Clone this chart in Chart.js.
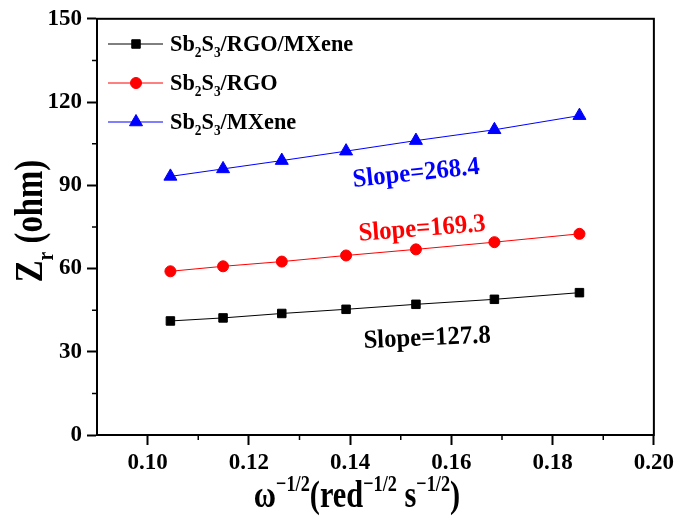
<!DOCTYPE html>
<html>
<head>
<meta charset="utf-8">
<script src="https://cdn.jsdelivr.net/npm/chart.js@4.4.1/dist/chart.umd.min.js"></script>
<style>
  body { margin: 0; background: #fff; }
  #wrap { width: 678px; height: 517px; }
</style>
</head>
<body>
<div id="wrap"><canvas id="chart"></canvas></div>
<script>
// values
const xValues = [0.1045, 0.1149, 0.1265, 0.1392, 0.1530, 0.1685, 0.1853];
const zRgoMxene = [41.1, 42.2, 43.8, 45.3, 47.1, 48.9, 51.3];
const zRgo = [59.0, 60.8, 62.5, 64.7, 66.9, 69.5, 72.5];
const zMxene = [93.2, 95.9, 98.9, 102.3, 106.1, 110.0, 115.1];
const seriesNames = ["Sb2S3/RGO/MXene", "Sb2S3/RGO", "Sb2S3/MXene"];
const xTicks = [0.10, 0.12, 0.14, 0.16, 0.18, 0.20];
const xMinor = [0.11, 0.13, 0.15, 0.17, 0.19];
const yTicks = [0, 30, 60, 90, 120, 150];
const yMinor = [15, 45, 75, 105, 135];
const slopeText = ["Slope=127.8", "Slope=169.3", "Slope=268.4"];
const slopeX = [0.1552, 0.1542, 0.1530];
const slopeY = [35.6, 75.0, 95.0];
const slopeAngle = [-2.5, -4.5, -6];

const FONT = '"Liberation Serif", "Times New Roman", serif';
const colors = ["#000000", "#ff0000", "#0000ff"];
const styles = ["rect", "circle", "triangle"];
const radii = [6, 5.5, 7.5];

// text where segments can be normal, subscript or superscript; sx squeezes it sideways
function richWidth(ctx, segs, size) {
  let w = 0;
  segs.forEach(s => {
    const fs = s[1] ? size * 0.6 : size;
    ctx.font = `bold ${fs}px ${FONT}`;
    w += ctx.measureText(s[0]).width;
  });
  return w;
}
function drawRich(ctx, segs, x, y, size, align, sx) {
  sx = sx || 1;
  ctx.save();
  ctx.translate(x, y);
  ctx.scale(sx, 1);
  let cx = 0;
  if (align === "center") cx = -richWidth(ctx, segs, size) / 2;
  ctx.textBaseline = "alphabetic";
  ctx.textAlign = "left";
  segs.forEach(s => {
    const fs = s[1] ? size * 0.6 : size;
    let dy = 0;
    if (s[1] === "sub") dy = size * 0.28;
    if (s[1] === "sup") dy = -size * 0.42;
    ctx.font = `bold ${fs}px ${FONT}`;
    ctx.fillText(s[0], cx, dy);
    cx += ctx.measureText(s[0]).width;
  });
  ctx.restore();
}
// "Sb2S3/RGO" -> digits become subscripts
function chemSegs(name) {
  return name.split(/(\d+)/).filter(p => p).map(p => [p, /^\d+$/.test(p) ? "sub" : ""]);
}

const extras = {
  id: "extras",
  afterDraw(chart) {
    const ctx = chart.ctx;
    const a = chart.chartArea;
    const xs = chart.scales.x, ys = chart.scales.y;
    ctx.save();
    // frame
    ctx.strokeStyle = "#000";
    ctx.lineWidth = 2;
    ctx.strokeRect(a.left, a.top, a.right - a.left, a.bottom - a.top);
    // minor ticks
    ctx.lineWidth = 1.5;
    ctx.beginPath();
    xMinor.forEach(v => {
      const px = xs.getPixelForValue(v);
      ctx.moveTo(px, a.bottom);
      ctx.lineTo(px, a.bottom + 5);
    });
    yMinor.forEach(v => {
      const py = ys.getPixelForValue(v);
      ctx.moveTo(a.left, py);
      ctx.lineTo(a.left - 5, py);
    });
    ctx.stroke();

    // legend
    const rowY = [44, 83, 122];
    chart.data.datasets.forEach((ds, i) => {
      const y = rowY[i];
      ctx.strokeStyle = ds.borderColor;
      ctx.lineWidth = 1;
      ctx.beginPath();
      ctx.moveTo(108, y);
      ctx.lineTo(163, y);
      ctx.stroke();
      ctx.fillStyle = ds.pointBackgroundColor;
      ctx.strokeStyle = ds.pointBorderColor;
      Chart.helpers.drawPoint(ctx, { pointStyle: ds.pointStyle, radius: ds.pointRadius, borderWidth: 1, rotation: 0 }, 136, y);
      ctx.fillStyle = "#000";
      drawRich(ctx, chemSegs(ds.label), 170, y + 7, 23, "left", 0.97);
    });

    // slope annotations
    slopeText.forEach((t, i) => {
      ctx.save();
      ctx.translate(xs.getPixelForValue(slopeX[i]), ys.getPixelForValue(slopeY[i]));
      ctx.rotate(slopeAngle[i] * Math.PI / 180);
      ctx.fillStyle = colors[i];
      drawRich(ctx, [[t, ""]], 0, 9, 26, "center", 0.95);
      ctx.restore();
    });

    // axis titles
    ctx.fillStyle = "#000";
    drawRich(ctx, [["ω", ""], ["−1/2", "sup"], ["(red", ""], ["−1/2", "sup"], [" s", ""], ["−1/2", "sup"], [")", ""]],
      357, 507, 38, "center", 0.8);
    ctx.save();
    ctx.translate(42, 221);
    ctx.rotate(-Math.PI / 2);
    drawRich(ctx, [["Z", ""], ["r", "sub"], [" (ohm)", ""]], 0, 0, 39, "center", 0.84);
    ctx.restore();
    ctx.restore();
  }
};

const whiteBg = {
  id: "whiteBg",
  beforeDraw(chart) {
    const ctx = chart.ctx;
    ctx.save();
    ctx.fillStyle = "#fff";
    ctx.fillRect(0, 0, chart.width, chart.height);
    ctx.restore();
  }
};

const seriesData = [zRgoMxene, zRgo, zMxene];
const datasets = seriesNames.map((name, i) => ({
  label: name,
  data: xValues.map((x, j) => ({ x: x, y: seriesData[i][j] })),
  borderColor: colors[i],
  backgroundColor: colors[i],
  borderWidth: 1,
  pointStyle: styles[i],
  pointRadius: radii[i],
  pointBackgroundColor: colors[i],
  pointBorderColor: colors[i],
  pointBorderWidth: 1,
  tension: 0
}));

const tickFont = { family: FONT, size: 23, weight: "bold" };

new Chart(document.getElementById("chart"), {
  type: "line",
  data: { datasets },
  options: {
    responsive: true,
    maintainAspectRatio: false,
    animation: false,
    layout: { padding: { top: 18, right: 23, left: 0, bottom: 0 } },
    plugins: { legend: { display: false }, tooltip: { enabled: false } },
    scales: {
      x: {
        type: "linear",
        min: 0.09,
        max: 0.20,
        afterBuildTicks: s => { s.ticks = xTicks.map(v => ({ value: v })); },
        afterFit: s => { s.height = 82; },
        ticks: { color: "#000", font: tickFont, padding: 4, maxRotation: 0, callback: v => v.toFixed(2) },
        grid: { drawOnChartArea: false, tickLength: 10, tickWidth: 2, tickColor: "#000" },
        border: { display: true, color: "#000", width: 2 }
      },
      y: {
        min: 0,
        max: 150,
        afterBuildTicks: s => { s.ticks = yTicks.map(v => ({ value: v })); },
        afterFit: s => { s.width = 97; },
        ticks: { color: "#000", font: tickFont, padding: 5 },
        grid: { drawOnChartArea: false, tickLength: 10, tickWidth: 2, tickColor: "#000" },
        border: { display: true, color: "#000", width: 2 }
      }
    }
  },
  plugins: [whiteBg, extras]
});
</script>
</body>
</html>
